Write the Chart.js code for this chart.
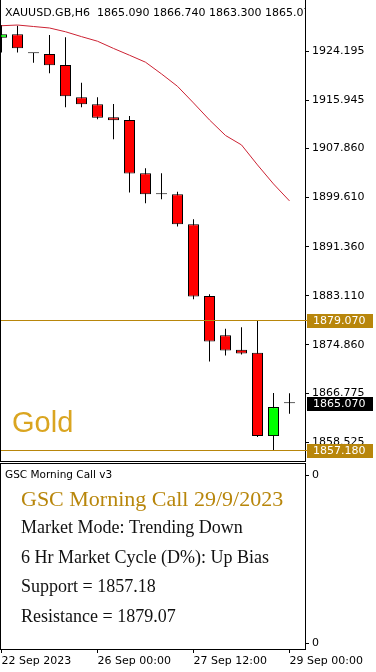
<!DOCTYPE html>
<html>
<head>
<meta charset="utf-8">
<script src="https://cdn.jsdelivr.net/npm/chart.js@4.4.0/dist/chart.umd.min.js"></script>
<style>
  html, body { margin: 0; padding: 0; background: #fff; }
  #wrap { position: relative; width: 376px; height: 672px; overflow: hidden; }
  #priceChart { position: absolute; left: 0; top: 0; }
  #subChart { position: absolute; left: 0; top: 462px; }
</style>
</head>
<body>
<div id="wrap">
  <canvas id="priceChart" width="376" height="462"></canvas>
  <canvas id="subChart" width="376" height="210"></canvas>
</div>
<script>
const symbol = "XAUUSD.GB";
const timeframe = "H6";
const assetName = "Gold";
const indicatorName = "GSC Morning Call v3";

// H6 bars, oldest first
const barTimes = [
  "22 Sep 12:00", "22 Sep 18:00", "25 Sep 00:00", "25 Sep 06:00", "25 Sep 12:00",
  "25 Sep 18:00", "26 Sep 00:00", "26 Sep 06:00", "26 Sep 12:00", "26 Sep 18:00",
  "27 Sep 00:00", "27 Sep 06:00", "27 Sep 12:00", "27 Sep 18:00", "28 Sep 00:00",
  "28 Sep 06:00", "28 Sep 12:00", "28 Sep 18:00", "29 Sep 00:00"
];
const opens  = [1926.44, 1927.01, 1923.85, 1923.71, 1921.86, 1916.44, 1915.27, 1913.09, 1912.63, 1903.69,
                1900.17, 1900.15, 1895.13, 1883.10, 1876.51, 1874.04, 1873.54, 1859.56, 1865.09];
const highs  = [1928.57, 1928.46, 1923.86, 1926.90, 1926.51, 1918.89, 1916.44, 1915.32, 1913.30, 1904.53,
                1903.69, 1900.60, 1895.97, 1883.39, 1877.57, 1877.85, 1879.07, 1866.78, 1866.74];
const lows   = [1923.96, 1923.96, 1922.25, 1920.47, 1914.77, 1914.77, 1912.75, 1909.40, 1900.44, 1898.66,
                1899.33, 1894.73, 1882.55, 1872.08, 1873.09, 1873.25, 1859.40, 1857.18, 1863.30];
const closes = [1927.01, 1924.66, 1923.83, 1921.81, 1916.61, 1915.27, 1913.02, 1912.58, 1903.63, 1900.17,
                1900.15, 1895.13, 1882.99, 1875.44, 1873.93, 1873.42, 1859.56, 1864.43, 1865.07];
const maValues = [1928.45, 1928.57, 1928.32, 1928.07, 1927.44, 1926.62, 1925.85, 1924.64, 1923.50, 1922.33,
                  1920.36, 1918.28, 1915.49, 1912.63, 1910.03, 1908.44, 1905.08, 1901.89, 1899.04];

const supportLevel = 1857.18;
const resistanceLevel = 1879.07;

const priceTicks = [1924.195, 1915.945, 1907.860, 1899.610, 1891.360, 1883.110, 1874.860, 1866.775, 1858.525];
const priceRange = [1855.55, 1932.77];
const xRange = [-0.09375, 18.96875];
const xTickIndex = [0, 6, 12, 18];
const xTickLabels = ["22 Sep 2023", "26 Sep 00:00", "27 Sep 12:00", "29 Sep 00:00"];
const subTicks = [0.03, 0.935];
const subTickLabels = ["0", "0"];

const infoTitle = "GSC Morning Call 29/9/2023";
const infoLines = [
  "Market Mode: Trending Down",
  "6 Hr Market Cycle (D%): Up Bias",
  "Support = " + supportLevel,
  "Resistance = " + resistanceLevel
];

const levelColor = "#b8860b";
const axisFont = { family: "DejaVu Sans", size: 11 };

const last = closes.length - 1;
const titleText = symbol + "," + timeframe + "  " +
  [opens[last], highs[last], lows[last], closes[last]].map(v => v.toFixed(3)).join(" ");

const idx = barTimes.map((t, i) => i);
const bodyColors = idx.map(i => {
  if (Math.abs(closes[i] - opens[i]) < 0.05) return "#000000";
  return closes[i] > opens[i] ? "#00ff00" : "#ff0000";
});

const priceDecor = {
  id: "priceDecor",
  afterDatasetsDraw(chart) {
    const { ctx, chartArea: a, scales: { y } } = chart;
    ctx.save();
    ctx.strokeStyle = levelColor;
    ctx.lineWidth = 1;
    [supportLevel, resistanceLevel].forEach(v => {
      const py = Math.round(y.getPixelForValue(v)) + 0.5;
      ctx.beginPath();
      ctx.moveTo(a.left, py);
      ctx.lineTo(a.right + 2, py);
      ctx.stroke();
    });
    ctx.fillStyle = "#daa520";
    ctx.font = "29px 'Liberation Sans'";
    ctx.textBaseline = "alphabetic";
    ctx.fillText(assetName, 12, 432);

    ctx.beginPath();
    ctx.rect(a.left, a.top, a.right - a.left, a.bottom - a.top);
    ctx.clip();
    ctx.fillStyle = "#000";
    ctx.font = "11px 'DejaVu Sans'";
    ctx.textBaseline = "middle";
    ctx.fillText(titleText, 5, 13);
    ctx.restore();
  },
  afterDraw(chart) {
    const { ctx, chartArea: a, scales: { y } } = chart;
    ctx.save();
    ctx.fillStyle = "#000";
    ctx.fillRect(a.left, a.top, 1, a.bottom - a.top + 2);
    ctx.fillRect(a.left, a.bottom + 1, a.right - a.left + 1, 1);

    const tags = [[resistanceLevel, levelColor], [closes[last], "#000"], [supportLevel, levelColor]];
    ctx.font = "11px 'DejaVu Sans'";
    ctx.textBaseline = "middle";
    tags.forEach(([v, c]) => {
      const py = Math.round(y.getPixelForValue(v));
      ctx.fillStyle = c;
      ctx.fillRect(a.right + 2, py - 6, 66, 14);
      ctx.fillStyle = "#fff";
      ctx.fillText(v.toFixed(3), a.right + 8, py + 1);
    });
    ctx.restore();
  }
};

new Chart(document.getElementById("priceChart"), {
  type: "bar",
  data: {
    datasets: [
      {
        label: "body",
        data: idx.map(i => ({ x: i, y: [opens[i], closes[i]] })),
        backgroundColor: bodyColors,
        borderColor: "#000",
        borderWidth: 1,
        borderSkipped: false,
        grouped: false,
        barPercentage: 1,
        maxBarThickness: 11,
        minBarLength: 1,
        order: 1
      },
      {
        label: "wick",
        data: idx.map(i => ({ x: i, y: [lows[i], highs[i]] })),
        backgroundColor: "#000",
        borderWidth: 0,
        grouped: false,
        barPercentage: 1,
        maxBarThickness: 1,
        order: 2
      },
      {
        type: "line",
        label: "MA",
        data: idx.map(i => ({ x: i, y: maValues[i] })),
        borderColor: "#cc2233",
        borderWidth: 1,
        pointRadius: 0,
        tension: 0,
        order: 0
      }
    ]
  },
  options: {
    responsive: false,
    animation: false,
    layout: { padding: { left: 0, right: 0, top: 0, bottom: 2 } },
    plugins: { legend: { display: false }, tooltip: { enabled: false } },
    scales: {
      x: { type: "linear", display: false, offset: false, min: xRange[0], max: xRange[1], grid: { offset: false } },
      y: {
        type: "linear",
        position: "right",
        min: priceRange[0],
        max: priceRange[1],
        afterBuildTicks: s => { s.ticks = priceTicks.map(v => ({ value: v })); },
        afterFit: s => { s.width = 71; s.paddingTop = 0; s.paddingBottom = 0; },
        ticks: { callback: v => Number(v).toFixed(3), color: "#000", font: axisFont, padding: 3, autoSkip: false },
        grid: { drawOnChartArea: false, drawTicks: true, tickLength: 4, color: "#000" },
        border: { color: "#000", width: 1 }
      }
    }
  },
  plugins: [priceDecor]
});

const subDecor = {
  id: "subDecor",
  afterDraw(chart) {
    const { ctx, chartArea: a } = chart;
    ctx.save();
    ctx.fillStyle = "#000";
    ctx.fillRect(a.left, a.top, a.right - a.left, 1);
    ctx.fillRect(a.left, a.top, 1, a.bottom - a.top);
    ctx.font = "10.5px 'DejaVu Sans'";
    ctx.textBaseline = "middle";
    ctx.fillText(indicatorName, 5, 13);

    ctx.textBaseline = "alphabetic";
    ctx.fillStyle = levelColor;
    ctx.font = "22px 'Liberation Serif'";
    ctx.fillText(infoTitle, 21, 44);
    ctx.fillStyle = "#111";
    ctx.font = "18px 'Liberation Serif'";
    infoLines.forEach((t, i) => ctx.fillText(t, 21, 71 + 29.6 * i));
    ctx.restore();
  }
};

new Chart(document.getElementById("subChart"), {
  type: "line",
  data: { datasets: [] },
  options: {
    responsive: false,
    animation: false,
    layout: { padding: { left: 0, right: 0, top: 1, bottom: 0 } },
    plugins: { legend: { display: false }, tooltip: { enabled: false } },
    scales: {
      x: {
        type: "linear",
        min: xRange[0],
        max: xRange[1],
        offset: false,
        afterBuildTicks: s => { s.ticks = xTickIndex.map(v => ({ value: v })); },
        afterFit: s => { s.height = 23; s.paddingLeft = 0; s.paddingRight = 0; },
        ticks: { callback: (v, i) => xTickLabels[i], align: "start", maxRotation: 0, autoSkip: false, padding: 2, color: "#000", font: axisFont },
        grid: { drawOnChartArea: false, drawTicks: true, tickLength: 4, color: "#000" },
        border: { color: "#000", width: 1 }
      },
      y: {
        type: "linear",
        position: "right",
        min: 0,
        max: 1,
        afterBuildTicks: s => { s.ticks = subTicks.map(v => ({ value: v })); },
        afterFit: s => { s.width = 71; s.paddingTop = 0; s.paddingBottom = 0; },
        ticks: { callback: (v, i) => subTickLabels[i], color: "#000", font: axisFont, padding: 3, autoSkip: false },
        grid: { drawOnChartArea: false, drawTicks: true, tickLength: 4, color: "#000" },
        border: { color: "#000", width: 1 }
      }
    }
  },
  plugins: [subDecor]
});
</script>
</body>
</html>
